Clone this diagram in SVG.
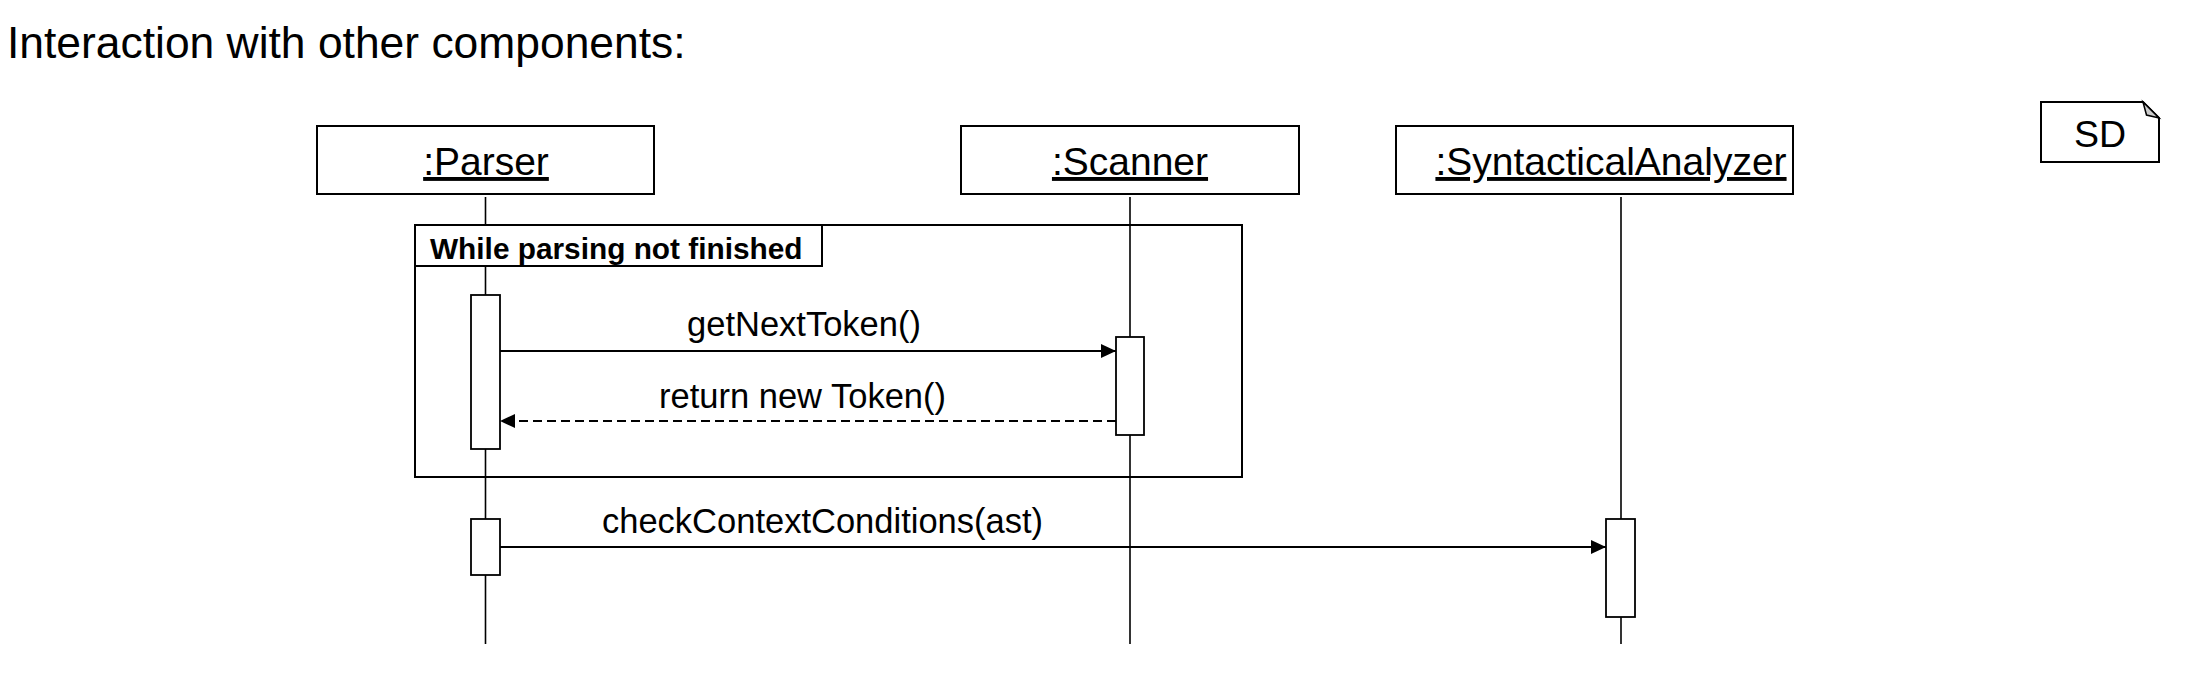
<svg xmlns="http://www.w3.org/2000/svg" width="2196" height="676" viewBox="0 0 2196 676">
<style>
text{font-family:"Liberation Sans",Arial,Helvetica,sans-serif;fill:#000}
.title{font-size:44.4px}
.name{font-size:39px;text-decoration:underline;text-anchor:middle}
.msg{font-size:34.5px}
.mid{text-anchor:middle}
.guard{font-size:29.8px;font-weight:bold}
.box{fill:#fff;stroke:#000;stroke-width:2}
.life{stroke:#000;stroke-width:1.6;fill:none}
.act{fill:#fff;stroke:#000;stroke-width:1.8}
.frame{fill:none;stroke:#000;stroke-width:2}
.call{stroke:#000;stroke-width:1.8;fill:none;marker-end:url(#head)}
.ret{stroke:#000;stroke-width:1.8;fill:none;stroke-dasharray:9 5;marker-end:url(#head)}
</style>
<defs>
<marker id="head" viewBox="0 0 15 14" refX="15" refY="7" markerWidth="15" markerHeight="14" markerUnits="userSpaceOnUse" orient="auto">
<path d="M0,0 L15,7 L0,14 Z" fill="#000"/>
</marker>
</defs>
<rect width="2196" height="676" fill="#fff"/>
<text class="title" x="7" y="58">Interaction with other components:</text>

<g id="lifelines">
<line class="life" x1="485.5" y1="197" x2="485.5" y2="644"/>
<line class="life" x1="1130" y1="197" x2="1130" y2="644"/>
<line class="life" x1="1621" y1="197" x2="1621" y2="644"/>
</g>

<g id="loop-frame">
<rect class="frame" x="415" y="225" width="827" height="252"/>
<rect class="box" x="415" y="225" width="407" height="41"/>
<text class="guard" x="430" y="259">While parsing not finished</text>
</g>

<g id="parser">
<rect class="box" x="317" y="126" width="337" height="68"/>
<text class="name" x="486" y="175">:Parser</text>
<rect class="act" x="471" y="295" width="29" height="154"/>
<rect class="act" x="471" y="519" width="29" height="56"/>
</g>

<g id="scanner">
<rect class="box" x="961" y="126" width="338" height="68"/>
<text class="name" x="1130" y="175">:Scanner</text>
<rect class="act" x="1116" y="337" width="28" height="98"/>
</g>

<g id="syntactical-analyzer">
<rect class="box" x="1396" y="126" width="397" height="68"/>
<text class="name" x="1611" y="175">:SyntacticalAnalyzer</text>
<rect class="act" x="1606" y="519" width="29" height="98"/>
</g>

<g id="sd-note">
<path d="M2041,102 L2143,102 L2159,118 L2159,162 L2041,162 Z" fill="#fff" stroke="#000" stroke-width="2"/>
<path d="M2143,102 L2146.5,115 L2159,118 Z" fill="#ccc" stroke="#000" stroke-width="1.5"/>
<text x="2100" y="147" class="mid" font-size="37.5">SD</text>
</g>

<g id="connectors">
<line class="call" x1="500" y1="351" x2="1116" y2="351"/>
<text class="msg mid" x="804" y="336">getNextToken()</text>
<line class="ret" x1="1116" y1="421" x2="500" y2="421"/>
<text class="msg mid" x="802.5" y="408">return new Token()</text>
<line class="call" x1="500" y1="547" x2="1606" y2="547"/>
<text class="msg" x="602" y="533">checkContextConditions(ast)</text>
</g>
</svg>
